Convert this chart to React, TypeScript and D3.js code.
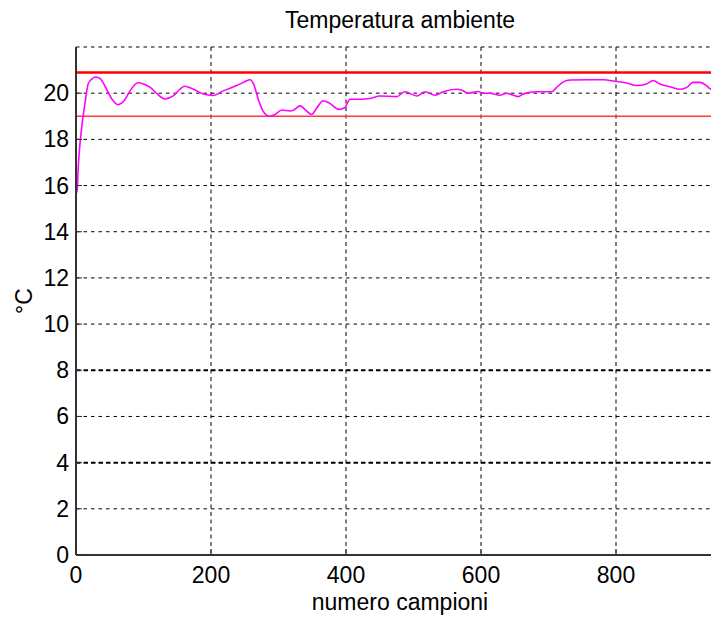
import React from "react";
import * as d3 from "d3";

const sampleIdx = [0, 1, 2, 3, 5, 8, 11, 14, 18, 23, 28, 35, 43, 53, 62, 72, 80, 92, 100, 110, 120, 132, 144, 155, 161, 174, 189, 203, 218, 238, 250, 258, 263, 270, 277, 287, 295, 305, 317, 322, 332, 339, 349, 357, 366, 376, 389, 398, 406, 421, 436, 450, 475, 487, 505, 517, 532, 544, 564, 571, 581, 596, 603, 613, 628, 638, 648, 655, 663, 682, 705, 712, 722, 732, 761, 781, 798, 816, 831, 845, 855, 865, 880, 895, 905, 914, 924, 934, 939, 950];
const temperature = [16.3, 15.7, 15.9, 16.6, 17.5, 18.4, 19.1, 19.7, 20.4, 20.6, 20.7, 20.65, 20.3, 19.75, 19.5, 19.7, 20.1, 20.45, 20.4, 20.25, 19.98, 19.75, 19.88, 20.2, 20.3, 20.17, 19.96, 19.9, 20.1, 20.33, 20.5, 20.58, 20.4, 19.74, 19.23, 19.0, 19.08, 19.27, 19.23, 19.26, 19.45, 19.3, 19.08, 19.37, 19.67, 19.56, 19.3, 19.37, 19.74, 19.74, 19.77, 19.88, 19.85, 20.06, 19.88, 20.06, 19.91, 20.06, 20.17, 20.14, 20.0, 20.07, 20.0, 20.0, 19.91, 20.0, 19.91, 19.85, 19.97, 20.06, 20.06, 20.25, 20.49, 20.57, 20.58, 20.58, 20.52, 20.44, 20.33, 20.4, 20.55, 20.4, 20.28, 20.17, 20.25, 20.47, 20.47, 20.33, 20.2, 20.05];
const upperLimit = 20.9;
const lowerLimit = 19.0;
const xTicks = [0, 200, 400, 600, 800];
const yTicks = [0, 2, 4, 6, 8, 10, 12, 14, 16, 18, 20];
const yGrid = [2, 4, 6, 8, 10, 12, 14, 16, 18, 20, 22];
const boldGrid = [4, 8];
const title = "Temperatura ambiente";
const xLabel = "numero campioni";
const yLabel = "°C";

const W = 711;
const H = 618;
const left = 76;
const right = 724;
const top = 47;
const bottom = 555;
const font = "'Liberation Sans', Arial, Helvetica, sans-serif";

export default function App() {
  const x = d3.scaleLinear().domain([0, 960]).range([left, right]);
  const y = d3.scaleLinear().domain([0, 22]).range([bottom, top]);
  const pts = sampleIdx.map((s, i) => [s, temperature[i]] as [number, number]);
  const line = d3
    .line<[number, number]>()
    .x((d) => x(d[0]))
    .y((d) => y(d[1]))
    .curve(d3.curveMonotoneX);

  return (
    <svg
      width={W}
      height={H}
      style={{ position: "absolute", left: 0, top: 0, background: "#fff" }}
      fontFamily={font}
    >
      <defs>
        <clipPath id="plot">
          <rect x={left} y={top - 2} width={right - left} height={bottom - top + 2} />
        </clipPath>
      </defs>
      <rect x={0} y={0} width={W} height={H} fill="#fff" />
      {/* horizontal grid */}
      {yGrid.map((v) => {
        const bold = boldGrid.includes(v);
        return (
          <line
            key={"gy" + v}
            x1={left}
            x2={right}
            y1={y(v)}
            y2={y(v)}
            stroke="#000"
            strokeWidth={bold ? 2 : 1}
            strokeDasharray={bold ? "4.5,3" : "3.5,4"}
          />
        );
      })}
      {/* vertical grid */}
      {xTicks.filter((v) => v > 0).map((v) => (
        <line
          key={"gx" + v}
          x1={x(v)}
          x2={x(v)}
          y1={top}
          y2={bottom}
          stroke="#000"
          strokeWidth={1}
          strokeDasharray="4,3.5"
        />
      ))}
      {/* limit lines */}
      <line x1={left} x2={right} y1={y(upperLimit)} y2={y(upperLimit)} stroke="#ff0000" strokeWidth={2.5} />
      <line x1={left} x2={right} y1={y(lowerLimit)} y2={y(lowerLimit)} stroke="#ff3b3b" strokeWidth={1.3} />
      {/* data */}
      <path d={line(pts) || ""} fill="none" stroke="#ff00ff" strokeWidth={1.6} clipPath="url(#plot)" />
      {/* axes */}
      <line x1={left} x2={left} y1={top} y2={bottom} stroke="#333" strokeWidth={2} />
      <line x1={left} x2={right} y1={bottom} y2={bottom} stroke="#333" strokeWidth={2} />
      {yTicks.map((v) => (
        <line key={"ty" + v} x1={left} x2={left + 6} y1={y(v)} y2={y(v)} stroke="#333" strokeWidth={1} />
      ))}
      {xTicks.map((v) => (
        <line key={"tx" + v} x1={x(v)} x2={x(v)} y1={bottom} y2={bottom - 6} stroke="#333" strokeWidth={1} />
      ))}
      {/* tick labels */}
      {yTicks.map((v) => (
        <text key={"ly" + v} x={left - 7} y={y(v) + 8} textAnchor="end" fontSize={23} fill="#000">
          {v}
        </text>
      ))}
      {xTicks.map((v) => (
        <text key={"lx" + v} x={x(v)} y={583} textAnchor="middle" fontSize={23} fill="#000">
          {v}
        </text>
      ))}
      <text x={(left + right) / 2} y={28} textAnchor="middle" fontSize={23} fill="#000">
        {title}
      </text>
      <text x={(left + right) / 2} y={610} textAnchor="middle" fontSize={23} fill="#000">
        {xLabel}
      </text>
      <text
        transform={`translate(32,${(top + bottom) / 2}) rotate(-90)`}
        textAnchor="middle"
        fontSize={23}
        fill="#000"
      >
        {yLabel}
      </text>
    </svg>
  );
}
